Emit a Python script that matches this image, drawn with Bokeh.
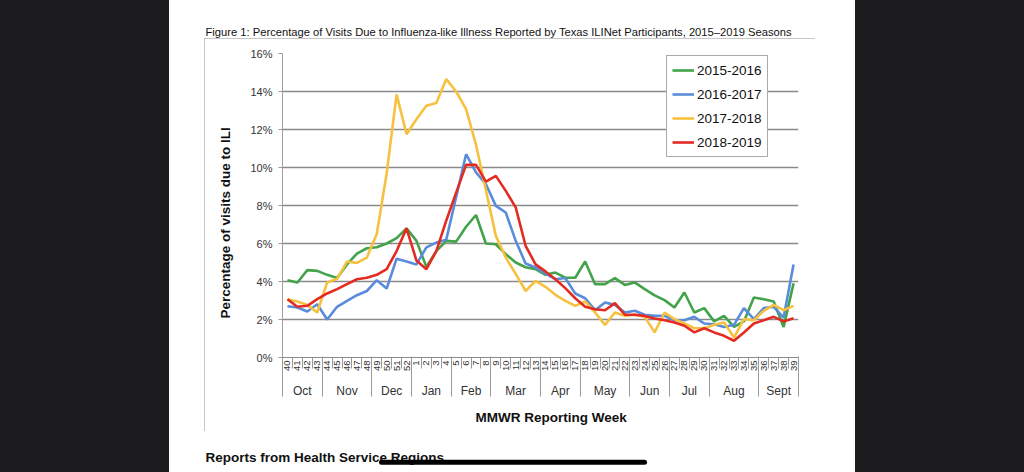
import math
from bokeh.plotting import figure
from bokeh.models import (Range1d, FixedTicker, LinearAxis, Legend, LegendItem,
                          Title, PrintfTickFormatter, Spacer)
from bokeh.layouts import row, column
from bokeh.core.properties import value
from bokeh.embed import file_html
from bokeh.resources import INLINE

# ---------------- data ----------------
weeks = [40, 41, 42, 43, 44, 45, 46, 47, 48, 49, 50, 51, 52,
         1, 2, 3, 4, 5, 6, 7, 8, 9, 10, 11, 12, 13, 14, 15, 16, 17, 18, 19, 20,
         21, 22, 23, 24, 25, 26, 27, 28, 29, 30, 31, 32, 33, 34, 35, 36, 37, 38, 39]
months = ["Oct", "Nov", "Dec", "Jan", "Feb", "Mar", "Apr", "May", "Jun", "Jul", "Aug", "Sept"]
month_weeks = [4, 5, 4, 4, 4, 5, 4, 5, 4, 4, 5, 4]

s2015_2016 = [4.07, 3.95, 4.60, 4.56, 4.35, 4.18, 4.90, 5.47, 5.75, 5.80, 6.00, 6.28, 6.80,
              6.14, 4.77, 5.60, 6.14, 6.10, 6.88, 7.50, 6.00, 5.96, 5.44, 5.00, 4.75, 4.65,
              4.35, 4.47, 4.20, 4.20, 5.05, 3.86, 3.86, 4.18, 3.82, 3.95, 3.60, 3.27, 3.02,
              2.63, 3.42, 2.37, 2.60, 1.90, 2.19, 1.61, 1.90, 3.16, 3.07, 2.95, 1.61, 3.90]
s2016_2017 = [2.70, 2.63, 2.42, 2.80, 2.00, 2.67, 2.98, 3.28, 3.50, 4.07, 3.63, 5.20, 5.05,
              4.90, 5.80, 6.05, 6.20, 8.45, 10.70, 9.74, 9.12, 7.98, 7.63, 6.14, 4.95, 4.74,
              4.42, 4.12, 4.18, 3.37, 3.12, 2.49, 2.90, 2.77, 2.37, 2.46, 2.25, 2.19, 2.19,
              1.96, 1.96, 2.14, 1.79, 1.75, 1.61, 1.72, 2.60, 2.02, 2.60, 2.67, 2.10, 4.90]
s2017_2018 = [3.07, 2.95, 2.77, 2.37, 3.95, 4.14, 5.05, 4.98, 5.26, 6.50, 9.70, 13.85, 11.75,
              12.54, 13.25, 13.40, 14.65, 14.00, 13.07, 11.20, 8.80, 6.40, 5.26, 4.40, 3.50, 4.03,
              3.72, 3.30, 2.98, 2.72, 2.95, 2.37, 1.72, 2.37, 2.19, 2.25, 2.14, 1.32, 2.37,
              2.02, 1.79, 1.54, 1.54, 1.72, 1.84, 1.05, 2.02, 1.96, 2.46, 2.77, 2.49, 2.72]
s2018_2019 = [3.07, 2.67, 2.72, 3.07, 3.37, 3.60, 3.86, 4.12, 4.20, 4.35, 4.65, 5.60, 6.80,
              5.10, 4.65, 5.60, 7.20, 8.68, 10.14, 10.14, 9.26, 9.56, 8.77, 7.90, 5.88, 4.90,
              4.53, 4.12, 3.65, 3.12, 2.67, 2.54, 2.49, 2.86, 2.25, 2.25, 2.19, 2.05, 1.96,
              1.84, 1.67, 1.32, 1.54, 1.32, 1.14, 0.88, 1.32, 1.79, 1.96, 2.14, 1.90, 2.07]
season_names = ["2015-2016", "2016-2017", "2017-2018", "2018-2019"]
season_colors = ["#43a34a", "#5a8cdb", "#f5c13e", "#e32b22"]
y_ticks = [0, 2, 4, 6, 8, 10, 12, 14, 16]

fig_title = ("Figure 1: Percentage of Visits Due to Influenza-like Illness Reported by "
             "Texas ILINet Participants, 2015\u20132019 Seasons")
y_title = "Percentage of visits due to ILI"
x_title = "MMWR Reporting Week"
section_title = "Reports from Health Service Regions"

FONT = "Liberation Sans"
x = list(range(len(weeks)))

# ---------------- main chart ----------------
p = figure(width=611, height=393, output_backend="svg", toolbar_location=None,
           x_range=Range1d(-0.5, len(weeks) - 0.5), y_range=Range1d(0, 16),
           min_border_left=78, min_border_right=17, min_border_top=15, min_border_bottom=74,
           background_fill_color="white", border_fill_color="white", outline_line_color=None,
           styles={"outline": "1px solid #b4b4b4", "outline-offset": "-1px"})

p.xgrid.visible = False
p.ygrid.ticker = FixedTicker(ticks=y_ticks)
p.ygrid.grid_line_color = "#8a8a8a"
p.ygrid.grid_line_width = 1.6

ya = p.yaxis[0]
ya.ticker = FixedTicker(ticks=y_ticks)
ya.formatter = PrintfTickFormatter(format="%d%%")
ya.major_tick_in = 0
ya.major_tick_out = 4
ya.minor_tick_out = 0
ya.minor_tick_in = 0
ya.major_tick_line_color = "#999999"
ya.axis_line_color = "#a0a0a0"
ya.major_label_standoff = 6
ya.major_label_text_font = FONT
ya.major_label_text_font_size = "11px"
ya.major_label_text_color = "#333333"

# week axis
xa = p.xaxis[0]
xa.ticker = FixedTicker(ticks=x, minor_ticks=[i - 0.5 for i in range(len(weeks) + 1)])
xa.major_label_overrides = {i: str(w) for i, w in enumerate(weeks)}
xa.major_label_orientation = math.pi / 2
xa.major_tick_in = 0
xa.major_tick_out = 0
xa.minor_tick_in = 0
xa.minor_tick_out = 11
xa.minor_tick_line_color = "#9a9a9a"
xa.axis_line_color = "#8a8a8a"
xa.major_label_standoff = -8
xa.major_label_text_font = FONT
xa.major_label_text_font_size = "9.5px"
xa.major_label_text_color = "#333333"

# month axis
centers, bounds = [], [-0.5]
start = 0
for n in month_weeks:
    c = start + (n - 1) / 2
    centers.append(int(c) if c == int(c) else c)
    start += n
    bounds.append(start - 0.5)
ma = LinearAxis(ticker=FixedTicker(ticks=centers, minor_ticks=bounds),
                major_label_overrides={c: m for c, m in zip(centers, months)})
ma.major_tick_in = 0
ma.major_tick_out = 0
ma.minor_tick_in = 18
ma.minor_tick_out = 22
ma.minor_tick_line_color = "#9a9a9a"
ma.axis_line_color = None
ma.major_label_standoff = -13
ma.major_label_text_font = FONT
ma.major_label_text_font_size = "12px"
ma.major_label_text_color = "#333333"
p.add_layout(ma, "below")

p.add_layout(Title(text=x_title, align="left", offset=193, vertical_align="bottom",
                   standoff=14, text_font=FONT, text_font_size="13.5px",
                   text_font_style="bold", text_color="#111111"), "below")
p.add_layout(Title(text=y_title, align="left", offset=39, vertical_align="top",
                   standoff=25, text_font=FONT, text_font_size="13.5px",
                   text_font_style="bold", text_color="#111111"), "left")

items = []
for name, col, ys in zip(season_names, season_colors,
                         [s2015_2016, s2016_2017, s2017_2018, s2018_2019]):
    r = p.line(x, ys, line_color=col, line_width=2.6)
    items.append(LegendItem(label=name, renderers=[r]))

legend = Legend(items=items, location=(384, 200), orientation="vertical",
                border_line_color="#555555", border_line_width=1,
                background_fill_color="white", background_fill_alpha=1.0,
                label_text_font=FONT, label_text_font_size="13.5px", label_text_color="#111111",
                padding=5, margin=0, spacing=6, label_height=18, glyph_height=18,
                glyph_width=22, label_standoff=3)
p.add_layout(legend)


# ---------------- page text strips ----------------
def text_strip(w, h):
    f = figure(width=w, height=h, output_backend="svg", toolbar_location=None,
               x_range=Range1d(0, w), y_range=Range1d(h, 0),
               x_axis_location=None, y_axis_location=None, min_border=0,
               outline_line_color=None, border_fill_color="white",
               background_fill_color="white")
    f.xgrid.visible = False
    f.ygrid.visible = False
    return f


header = text_strip(686, 38)
header.text(x=[36], y=[31], text=[fig_title], text_font=value(FONT),
            text_font_size="11.2px", text_color="#111111",
            text_align="left", text_baseline="middle")

footer = text_strip(686, 41)
footer.text(x=[36], y=[25.5], text=[section_title], text_font=value(FONT),
            text_font_size="13.5px", text_font_style="bold", text_color="#111111",
            text_align="left", text_baseline="middle")
footer.line(x=[212, 475], y=[30.7, 30.7], line_color="black", line_width=5, line_cap="round")

chart_row = row(Spacer(width=35, height=393), p, Spacer(width=40, height=393), spacing=0)
center = column(header, chart_row, footer, spacing=0)

left_bg = Spacer(width=169, height=472, styles={"background-color": "#1c1c1e"})
right_bg = Spacer(width=169, height=472, styles={"background-color": "#1c1c1e"})
page = row(left_bg, center, right_bg, spacing=0)

open("out.html", "w").write(file_html(page, INLINE))
